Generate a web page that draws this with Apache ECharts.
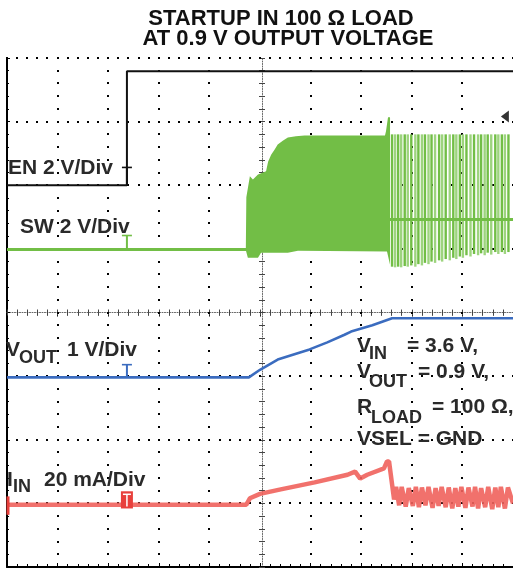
<!DOCTYPE html>
<html>
<head>
<meta charset="utf-8">
<title>Startup in 100 Ω load</title>
<script src="https://cdn.jsdelivr.net/npm/echarts@6/dist/echarts.min.js"></script>
<style>
  html, body { margin: 0; padding: 0; background: #fff; }
  #scope { width: 513px; height: 573px; }
</style>
</head>
<body>
<div id="scope"></div>
<script>
// everything is in scope divisions: time 0..10, level -4..4 (screen centre = 0)
const enTrace = [[0, 2.0], [2.37, 2.0], [2.37, 3.79], [10, 3.79]];

const swIdle = [[0, 0.99], [4.73, 0.99]];
// switching burst, drawn as one filled band (top edge left->right, bottom edge right->left)
const swBurstTop = [
  [4.72, 0.99], [4.73, 1.81], [4.8, 2.14], [4.86, 2.09], [4.96, 2.17], [5.06, 2.2],
  [5.12, 2.22], [5.16, 2.37], [5.22, 2.48], [5.29, 2.56], [5.35, 2.64], [5.45, 2.7],
  [5.55, 2.75], [5.71, 2.77], [5.88, 2.78], [7.47, 2.78], [7.49, 2.85], [7.53, 3.07], [7.57, 3.07]
];
const swBurstBottom = [
  [7.57, 0.75], [7.51, 0.96], [5.75, 0.97], [5.55, 0.94], [5.02, 0.94],
  [4.96, 0.86], [4.76, 0.86], [4.72, 0.98]
];
// PFM pulses after the soft start: [time, low, high]
const swPulses = [
  [7.61, 0.72, 2.8], [7.67, 0.71, 2.8], [7.73, 0.72, 2.8], [7.79, 0.71, 2.8], [7.86, 0.73, 2.8],
  [7.92, 0.72, 2.8], [7.99, 0.74, 2.8], [8.07, 0.72, 2.8], [8.13, 0.76, 2.8], [8.2, 0.74, 2.8],
  [8.26, 0.78, 2.8], [8.33, 0.76, 2.8], [8.39, 0.8, 2.8], [8.46, 0.78, 2.8], [8.54, 0.82, 2.8],
  [8.6, 0.8, 2.8], [8.67, 0.84, 2.8], [8.75, 0.82, 2.8], [8.82, 0.86, 2.8], [8.88, 0.84, 2.8],
  [8.95, 0.88, 2.8], [9.01, 0.86, 2.8], [9.08, 0.9, 2.8], [9.16, 0.88, 2.8], [9.23, 0.92, 2.8],
  [9.31, 0.9, 2.8], [9.37, 0.93, 2.8], [9.44, 0.9, 2.8], [9.5, 0.94, 2.8], [9.57, 0.91, 2.8],
  [9.65, 0.95, 2.8], [9.71, 0.92, 2.8], [9.78, 0.95, 2.8], [9.84, 0.92, 2.8], [9.91, 0.95, 2.8]
];
const swRest = [[7.56, 1.46], [10, 1.46]];

const voutTrace = [
  [0, -1.02], [4.78, -1.02], [5.0, -0.9], [5.35, -0.74], [5.98, -0.58], [6.33, -0.47],
  [6.67, -0.35], [6.8, -0.3], [7.22, -0.2], [7.61, -0.09], [10, -0.09]
];

const iinTrace = [
  [0, -3.02], [4.73, -3.02], [4.8, -2.92], [5.0, -2.85], [5.41, -2.78], [6.08, -2.67],
  [6.73, -2.55], [6.88, -2.5], [6.98, -2.61], [7.12, -2.55], [7.45, -2.45], [7.51, -2.34],
  [7.55, -2.34], [7.61, -2.7], [7.65, -2.94], [7.69, -2.74], [7.75, -3.03], [7.8, -2.74],
  [7.88, -3.05], [7.94, -2.76], [8.02, -3.04], [8.08, -2.74], [8.14, -3.06], [8.2, -2.75],
  [8.27, -3.03], [8.33, -2.74], [8.41, -3.07], [8.47, -2.76], [8.53, -3.04], [8.59, -2.74],
  [8.67, -3.06], [8.73, -2.75], [8.8, -3.08], [8.86, -2.76], [8.92, -3.05], [8.98, -2.74],
  [9.06, -3.07], [9.12, -2.75], [9.2, -3.05], [9.25, -2.74], [9.31, -3.08], [9.37, -2.76],
  [9.45, -3.06], [9.51, -2.74], [9.59, -3.09], [9.65, -2.75], [9.71, -3.06], [9.76, -2.74],
  [9.84, -3.08], [9.9, -2.75], [10, -3.0]
];

// channel ground markers: [time, bar level, trace level]
const enMark = [2.37, 2.28, 2.0];
const swMark = [2.37, 1.21, 0.99];
const voutMark = [2.37, -0.82, -1.02];
const iinMark = [2.37, -2.81, -3.08];
const iinOffsetMark = [0, -2.89, -3.18];
const trigLevel = [[9.84, 3.08]];

// graticule: major lines carrying a dot every 1/5 division
const gratTimes = [1, 2, 3, 4, 6, 7, 8, 9];
const gratLevels = [-3, -2, -1, 1, 2, 3, 4];

const C_EN = '#111111';
const C_SW = '#72be46';
const C_SW_LIGHT = '#9dd47e';
const C_VOUT = '#3b6cbf';
const C_IIN = '#ef625c';
const C_TEXT = '#2a2a2a';
const FONT = 'bold 21px "Liberation Sans", Arial, sans-serif';
const SUB = 'bold 18px "Liberation Sans", Arial, sans-serif';
const gridDot = '#000';

function tMarker(mark, color) {
  return {
    type: 'custom', xAxisIndex: 0, yAxisIndex: 0, silent: true, z: 6,
    data: [mark],
    renderItem: (params, api) => {
      const top = api.coord([api.value(0), api.value(1)]);
      const base = api.coord([api.value(0), api.value(2)]);
      return {
        type: 'group',
        children: [
          { type: 'line', shape: { x1: top[0] - 5, y1: top[1], x2: top[0] + 5, y2: top[1] }, style: { stroke: color, lineWidth: 1.6 } },
          { type: 'line', shape: { x1: top[0], y1: top[1], x2: base[0], y2: base[1] }, style: { stroke: color, lineWidth: 2 } }
        ]
      };
    }
  };
}

function text(x, y, str, font) {
  return {
    type: 'text', x: x, y: y, z: 10, silent: true,
    style: { text: str, font: font || FONT, fill: C_TEXT, textVerticalAlign: 'middle' }
  };
}

// vertical graticule lines, one item per line
function renderVGrat(params, api) {
  const dots = [];
  for (let k = 0; k <= 40; k++) {
    const p = api.coord([api.value(0), -4 + k * 0.2]);
    dots.push({ type: 'rect', shape: { x: Math.round(p[0]) - 1, y: Math.round(p[1]) - 1, width: 2, height: 2 }, style: { fill: gridDot } });
  }
  return { type: 'group', children: dots };
}

function renderHGrat(params, api) {
  const dots = [];
  for (let k = 0; k <= 50; k++) {
    const p = api.coord([k * 0.2, api.value(1)]);
    dots.push({ type: 'rect', shape: { x: Math.round(p[0]) - 1, y: Math.round(p[1]) - 1, width: 2, height: 2 }, style: { fill: gridDot } });
  }
  return { type: 'group', children: dots };
}

const noLabel = { show: false };

const option = {
  animation: false,
  grid: { left: 7, top: 58, width: 510, height: 509 },
  xAxis: [
    {
      type: 'value', min: 0, max: 10, interval: 1, position: 'bottom',
      axisLine: { onZero: false, lineStyle: { color: '#000', width: 2 } },
      axisTick: { inside: true, length: 4, lineStyle: { color: '#000' } },
      minorTick: { show: true, splitNumber: 5, length: 3, lineStyle: { color: '#000' } },
      axisLabel: noLabel, splitLine: { show: false }
    },
    {
      type: 'value', min: 0, max: 10, interval: 1, position: 'top',
      axisLine: { show: false },
      axisTick: { inside: true, length: 4, lineStyle: { color: gridDot } },
      minorTick: { show: true, splitNumber: 5, length: 3, lineStyle: { color: gridDot } },
      axisLabel: noLabel, splitLine: { show: false }
    },
    {
      // horizontal centre graticule
      type: 'value', min: 0, max: 10, interval: 1, position: 'bottom', offset: -254.5,
      axisLine: { onZero: false, lineStyle: { color: '#666', width: 1, type: [1, 1.5] } },
      axisTick: { inside: true, length: 3, lineStyle: { color: '#444' } },
      minorTick: { show: true, splitNumber: 5, length: 3, lineStyle: { color: '#444' } },
      axisLabel: noLabel, splitLine: { show: false }
    },
    {
      type: 'value', min: 0, max: 10, interval: 1, position: 'top', offset: -254.5,
      axisLine: { show: false },
      axisTick: { inside: true, length: 3, lineStyle: { color: '#444' } },
      minorTick: { show: true, splitNumber: 5, length: 3, lineStyle: { color: '#444' } },
      axisLabel: noLabel, splitLine: { show: false }
    }
  ],
  yAxis: [
    {
      type: 'value', min: -4, max: 4, interval: 1, position: 'left',
      axisLine: { onZero: false, lineStyle: { color: '#000', width: 2 } },
      axisTick: { inside: true, length: 3, lineStyle: { color: gridDot } },
      minorTick: { show: true, splitNumber: 5, length: 2, lineStyle: { color: gridDot } },
      axisLabel: noLabel, splitLine: { show: false }
    },
    {
      // vertical centre graticule
      type: 'value', min: -4, max: 4, interval: 1, position: 'left', offset: -255,
      axisLine: { onZero: false, lineStyle: { color: '#666', width: 1, type: [1, 1.5] } },
      axisTick: { inside: true, length: 3, lineStyle: { color: '#444' } },
      minorTick: { show: true, splitNumber: 5, length: 3, lineStyle: { color: '#444' } },
      axisLabel: noLabel, splitLine: { show: false }
    },
    {
      type: 'value', min: -4, max: 4, interval: 1, position: 'right', offset: -255,
      axisLine: { show: false },
      axisTick: { inside: true, length: 3, lineStyle: { color: '#444' } },
      minorTick: { show: true, splitNumber: 5, length: 3, lineStyle: { color: '#444' } },
      axisLabel: noLabel, splitLine: { show: false }
    }
  ],
  series: [
    {
      name: 'graticule V', type: 'custom', z: 1,
      data: gratTimes.map((t) => [t, 0]), renderItem: renderVGrat
    },
    {
      name: 'graticule H', type: 'custom', z: 1,
      data: gratLevels.map((v) => [0, v]), renderItem: renderHGrat
    },
    {
      name: 'EN', type: 'line', data: enTrace, showSymbol: false, z: 4,
      lineStyle: { color: C_EN, width: 2 }
    },
    {
      name: 'SW', type: 'line', data: swIdle, showSymbol: false, z: 4,
      lineStyle: { color: C_SW, width: 3 }
    },
    {
      name: 'SW burst', type: 'custom', data: swBurstTop, z: 4, silent: true,
      renderItem: (params, api) => {
        if (params.dataIndex !== 0) return null;
        const pts = swBurstTop.concat(swBurstBottom).map((p) => api.coord(p));
        return { type: 'polygon', shape: { points: pts }, style: { fill: C_SW } };
      }
    },
    {
      name: 'SW pulses', type: 'custom', data: swPulses, z: 4, silent: true,
      renderItem: (params, api) => {
        const lo = api.coord([api.value(0), api.value(1)]);
        const hi = api.coord([api.value(0), api.value(2)]);
        return {
          type: 'line',
          shape: { x1: lo[0], y1: lo[1], x2: hi[0], y2: hi[1] },
          style: { stroke: params.dataIndex % 2 ? C_SW_LIGHT : C_SW, lineWidth: 2.4 }
        };
      }
    },
    {
      name: 'SW rest', type: 'line', data: swRest, showSymbol: false, z: 4,
      lineStyle: { color: C_SW, width: 3 }
    },
    {
      name: 'VOUT', type: 'line', data: voutTrace, showSymbol: false, z: 4,
      lineStyle: { color: C_VOUT, width: 2.6 }
    },
    {
      name: 'IIN', type: 'line', data: iinTrace, showSymbol: false, z: 4,
      lineStyle: { color: C_IIN, width: 4.5, opacity: 0.9 }
    },
    tMarker(enMark, C_EN),
    tMarker(swMark, C_SW),
    tMarker(voutMark, C_VOUT),
    {
      name: 'IIN marker', type: 'custom', data: [iinMark], z: 6, silent: true,
      renderItem: (params, api) => {
        const top = api.coord([api.value(0), api.value(1)]);
        const bot = api.coord([api.value(0), api.value(2)]);
        return {
          type: 'group',
          children: [
            { type: 'rect', shape: { x: top[0] - 6, y: top[1], width: 12, height: bot[1] - top[1] }, style: { fill: '#e8403c' } },
            { type: 'line', shape: { x1: top[0] - 4, y1: top[1] + 3, x2: top[0] + 4, y2: top[1] + 3 }, style: { stroke: '#fff', lineWidth: 1.5 } },
            { type: 'line', shape: { x1: top[0], y1: top[1] + 3, x2: top[0], y2: bot[1] - 2 }, style: { stroke: '#fff', lineWidth: 1.5 } }
          ]
        };
      }
    },
    {
      name: 'IIN offset', type: 'custom', data: [iinOffsetMark], z: 6, silent: true,
      renderItem: (params, api) => {
        const a = api.coord([api.value(0), api.value(1)]);
        const b = api.coord([api.value(0), api.value(2)]);
        return { type: 'line', shape: { x1: a[0] + 1, y1: a[1], x2: b[0] + 1, y2: b[1] }, style: { stroke: '#e8403c', lineWidth: 3 } };
      }
    },
    {
      name: 'trigger', type: 'scatter', data: trigLevel, z: 6, silent: true,
      symbol: 'triangle', symbolRotate: 90, symbolSize: [12, 8],
      itemStyle: { color: '#000' }
    }
  ],
  graphic: [
    {
      type: 'text', x: 281, y: 19, silent: true,
      style: { text: 'STARTUP IN 100 Ω LOAD', font: 'bold 22px "Liberation Sans", Arial, sans-serif', fill: '#111', textAlign: 'center', textVerticalAlign: 'middle' }
    },
    {
      type: 'text', x: 288, y: 39, silent: true,
      style: { text: 'AT 0.9 V OUTPUT VOLTAGE', font: 'bold 22px "Liberation Sans", Arial, sans-serif', fill: '#111', textAlign: 'center', textVerticalAlign: 'middle' }
    },
    text(8, 168, 'EN 2 V/Div'),
    text(20, 227, 'SW 2 V/Div'),
    text(6, 350, 'V'),
    text(19, 358, 'OUT', SUB),
    text(67, 350, '1 V/Div'),
    text(7, 480, 'I'),
    text(13, 487, 'IN', SUB),
    text(44, 480, '20 mA/Div'),
    text(357, 346, 'V'),
    text(369, 354, 'IN', SUB),
    text(407, 346, '= 3.6 V,'),
    text(357, 372, 'V'),
    text(369, 382, 'OUT', SUB),
    text(418, 372, '= 0.9 V,'),
    text(357, 407, 'R'),
    text(371, 418, 'LOAD', SUB),
    text(432, 407, '= 100 Ω,'),
    text(357, 439, 'VSEL = GND')
  ]
};

const chart = echarts.init(document.getElementById('scope'));
chart.setOption(option);
</script>
</body>
</html>
